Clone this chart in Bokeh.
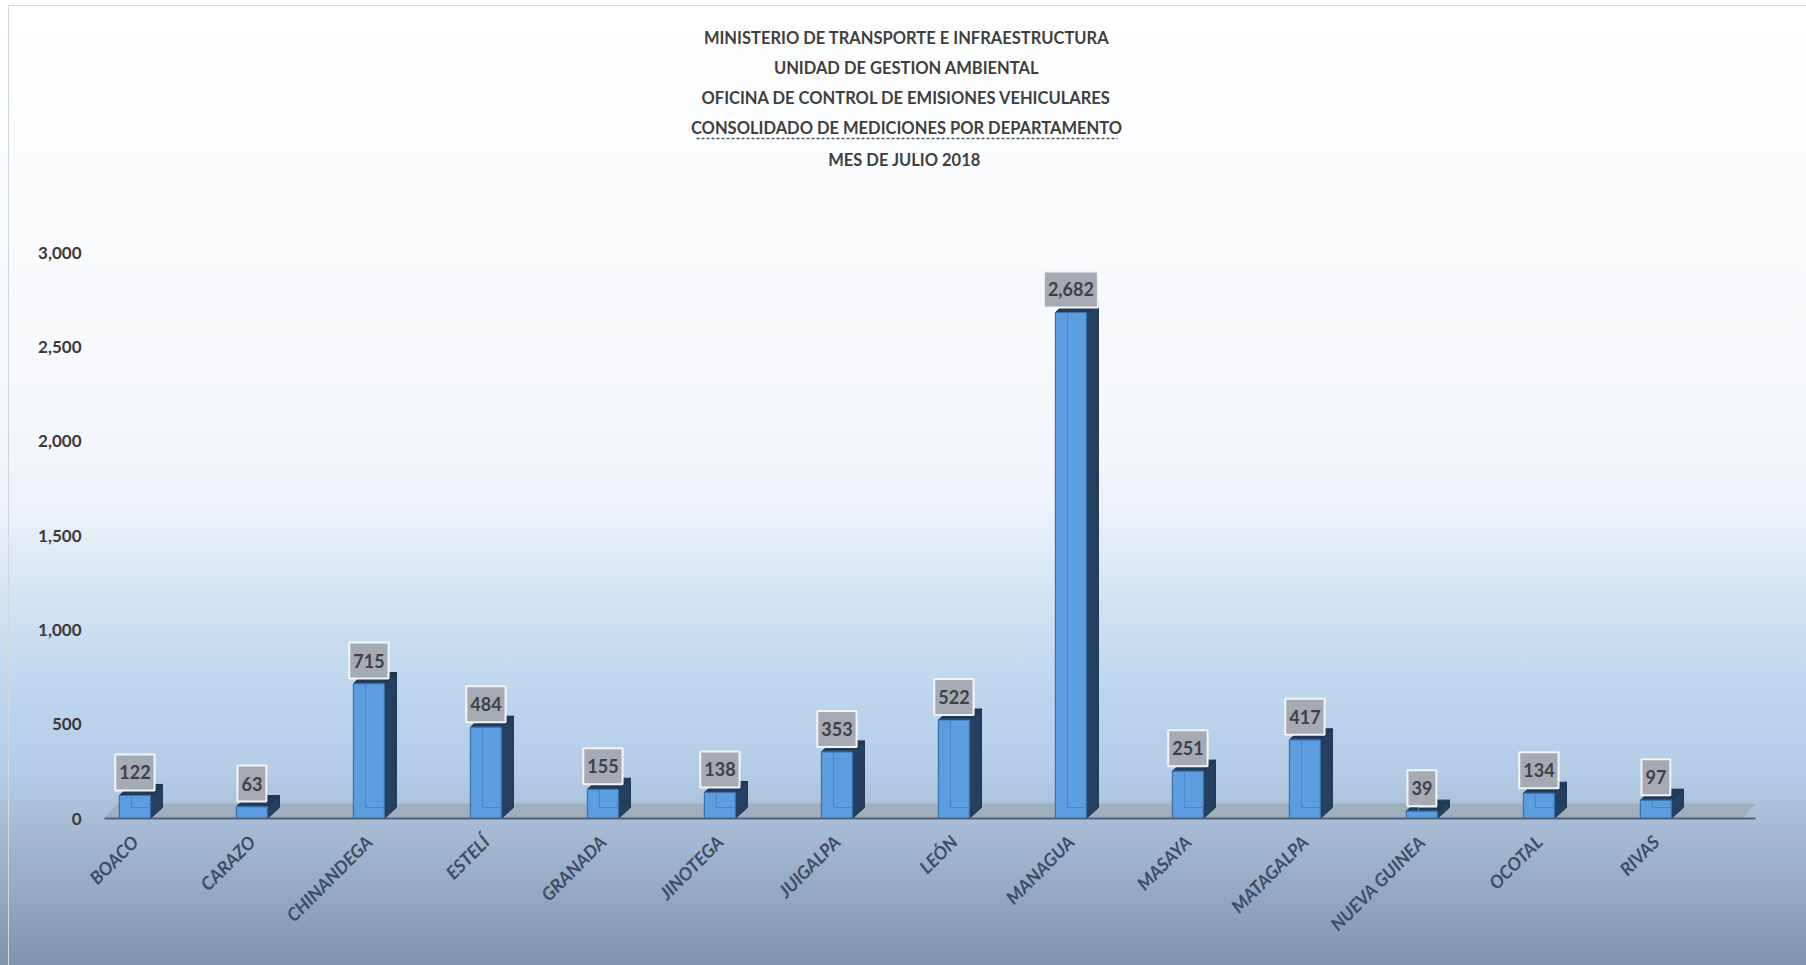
import math
from bokeh.plotting import figure
from bokeh.models import Range1d, FixedTicker, NumeralTickFormatter, Label, Arrow
from bokeh.core.properties import value
from bokeh.embed import file_html
from bokeh.resources import INLINE

# ---------------- data ----------------
departments = ["BOACO", "CARAZO", "CHINANDEGA", "ESTELÍ", "GRANADA", "JINOTEGA",
               "JUIGALPA", "LEÓN", "MANAGUA", "MASAYA", "MATAGALPA",
               "NUEVA GUINEA", "OCOTAL", "RIVAS"]
mediciones = [122, 63, 715, 484, 155, 138, 353, 522, 2682, 251, 417, 39, 134, 97]
y_ticks = [0, 500, 1000, 1500, 2000, 2500, 3000]
title_lines = [
    "MINISTERIO DE TRANSPORTE E INFRAESTRUCTURA",
    "UNIDAD DE GESTION AMBIENTAL",
    "OFICINA DE CONTROL DE EMISIONES VEHICULARES",
    "CONSOLIDADO DE MEDICIONES POR DEPARTAMENTO",
    "MES DE  JULIO 2018",
]

# ---------------- layout ----------------
W, H = 1806, 965
B_LEFT, B_RIGHT, B_BOTTOM, B_TOP = 104, 51, 147, 0
frame_w = W - B_LEFT - B_RIGHT
frame_h = H - B_BOTTOM - B_TOP
px_per_cat = 117.0
px_per_val = 566.0 / 3000.0
x_start = -0.26
x_end = x_start + frame_w / px_per_cat
y_end = frame_h / px_per_val

bar_w = 31 / px_per_cat
dx = 12 / px_per_cat
dy = 11 / px_per_val
floor_dx = 13 / px_per_cat
floor_dy = 15 / px_per_val

FONT = "Lato"

p = figure(width=W, height=H, output_backend="svg", toolbar_location=None,
           x_range=Range1d(x_start, x_end), y_range=Range1d(0, y_end),
           min_border_left=B_LEFT, min_border_right=B_RIGHT,
           min_border_bottom=B_BOTTOM, min_border_top=B_TOP)
p.background_fill_color = None
p.border_fill_color = None
p.outline_line_color = None
p.grid.visible = False
p.styles = {
    "background": (
        "linear-gradient(#d3d6da, #d3d6da) 8px 5px / 1px calc(100% - 5px) no-repeat, "
        "linear-gradient(#d9dcdf, #d9dcdf) 8px 5px / calc(100% - 8px) 1px no-repeat, "
        "linear-gradient(to bottom, #ffffff 0%, #f6f8fb 40%, #eef3f9 52%, "
        "#d3e3f3 62%, #bdd5ed 72%, #b4cce6 80%, #a6bbd3 86%, #93a7c1 93%, #7f93ad 100%)"
    ),
}

# floor
p.patch([x_start, x_end - floor_dx, x_end, x_start + floor_dx],
        [0, 0, floor_dy, floor_dy], fill_color="#9ba6b2", fill_alpha=0.7, line_color=None)

xs = list(range(len(departments)))
lefts = [x - bar_w / 2 for x in xs]
rights = [x + bar_w / 2 for x in xs]

side_xs = [[r, r + dx, r + dx, r] for r in rights]
side_ys = [[0, dy, v + dy, v] for v in mediciones]
top_xs = [[l, l + dx, r + dx, r] for l, r in zip(lefts, rights)]
top_ys = [[v, v + dy, v + dy, v] for v in mediciones]

p.patches(side_xs, side_ys, fill_color="#243f60", line_color="#1b324d", line_width=1)
p.patches(top_xs, top_ys, fill_color="#203a5a", line_color="#1b324d", line_width=1)
p.quad(left=lefts, right=rights, bottom=0, top=mediciones,
       fill_color="#5b9ddf", line_color="#3b70a8", line_width=1.2)
# faint back edges visible through the translucent face
p.segment(x0=[l + dx for l in lefts], y0=[dy] * len(xs),
          x1=[l + dx for l in lefts], y1=mediciones, line_color="#4a86c4", line_width=1)
p.segment(x0=[l + dx for l in lefts], y0=[dy] * len(xs),
          x1=rights, y1=[dy] * len(xs), line_color="#4a86c4", line_width=1)

# value labels
p.text(x=xs, y=mediciones, text=[f"{v:,}" for v in mediciones],
       text_font=value(FONT), text_font_size="18px", text_font_style="bold",
       text_color="#3e4247", text_align="center", text_baseline="bottom",
       y_offset=-5, background_fill_color="#a6abb3", border_line_color="#f2f4f7",
       border_line_width=2, padding=dict(left=4, right=4, top=11, bottom=11))

# axes
p.xaxis.ticker = FixedTicker(ticks=xs)
p.xaxis.major_label_overrides = {i: d for i, d in enumerate(departments)}
p.xaxis.major_label_orientation = math.pi / 4
p.xaxis.major_label_text_font = FONT
p.xaxis.major_label_text_font_size = "18px"
p.xaxis.major_label_text_font_style = "bold italic"
p.xaxis.major_label_text_color = "#3d4d64"
p.xaxis.major_label_standoff = 14
p.xaxis.major_tick_line_color = None
p.xaxis.minor_tick_line_color = None
p.xaxis.axis_line_color = "#4f6178"
p.xaxis.axis_line_width = 2

p.yaxis.ticker = FixedTicker(ticks=y_ticks)
p.yaxis.formatter = NumeralTickFormatter(format="0,0")
p.yaxis.major_label_text_font = FONT
p.yaxis.major_label_text_font_size = "17px"
p.yaxis.major_label_text_font_style = "bold"
p.yaxis.major_label_text_color = "#3a3a3a"
p.yaxis.major_label_standoff = 17
p.yaxis.axis_line_color = None
p.yaxis.major_tick_line_color = None
p.yaxis.minor_tick_line_color = None

# title block
title_cx = 802
title_y = [781, 751, 721, 691, 659]
for t, ty in zip(title_lines, title_y):
    p.add_layout(Label(x=title_cx, y=ty, x_units="screen", y_units="screen", text=t,
                       text_align="center", text_baseline="middle", text_font=FONT,
                       text_font_size="16.5px", text_font_style="bold", text_color="#3f3f3f"))
p.add_layout(Arrow(end=None, start=None, x_start=592, y_start=680, x_end=1013, y_end=680,
                   start_units="screen", end_units="screen",
                   line_color="#555555", line_width=1.5, line_dash="3 2"))

open("out.html", "w").write(file_html(p, INLINE))
